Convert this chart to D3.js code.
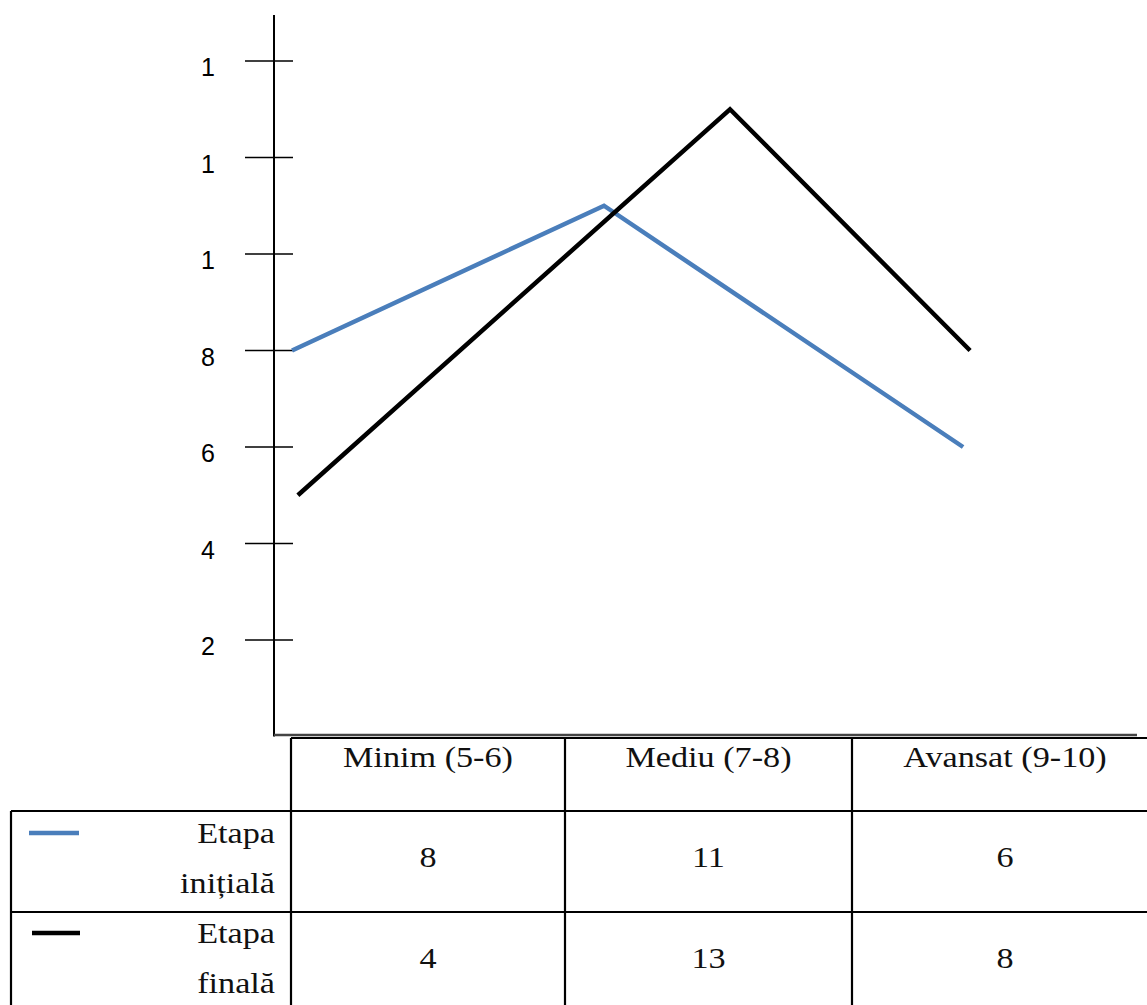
<!DOCTYPE html>
<html><head><meta charset="utf-8">
<script src="https://cdn.jsdelivr.net/npm/d3@7"></script>
<style>body{margin:0;background:#fff}svg{display:block}</style>
</head><body>
<script>
// ---- data ----
const categories = ["Minim (5-6)", "Mediu (7-8)", "Avansat (9-10)"];
const seriesLabels = [["Etapa", "inițială"], ["Etapa", "finală"]];
const initialValues = [8, 11, 6];      // plotted line (blue)
const finalValues = [5, 13, 8];        // plotted line (black), as drawn
const initialTable = [8, 11, 6];       // values printed in table
const finalTable = [4, 13, 8];
const initialPos = [0.062, 1.134, 2.368]; // x position, in category units
const finalPos = [0.082, 1.567, 2.392];
const tickValues = [2, 4, 6, 8, 10, 12, 14];
const tickLabels = ["2", "4", "6", "8", "1", "1", "1"];
const colors = ["#4a7ebb", "#000000"];

// ---- layout ----
const W = 1147, H = 1005;
const svg = d3.select("body").append("svg").attr("width", W).attr("height", H);
const axisX = 274;
const y = d3.scaleLinear().domain([0, 14]).range([736.5, 61]);
const x = d3.scaleLinear().domain([0, 3]).range([axisX, 1147]);
const sx = 1.14;

// y axis line
svg.append("line").attr("x1", axisX).attr("x2", axisX).attr("y1", 15).attr("y2", y(0))
  .attr("stroke", "#000").attr("stroke-width", 2);
// x axis line
svg.append("line").attr("x1", axisX).attr("x2", 1137).attr("y1", 735).attr("y2", 735)
  .attr("stroke", "#444").attr("stroke-width", 2.5);

// ticks (crossing)
svg.selectAll(".tick").data(tickValues).join("line")
  .attr("x1", axisX - 29).attr("x2", axisX + 19)
  .attr("y1", d => y(d)).attr("y2", d => y(d))
  .attr("stroke", "#000").attr("stroke-width", 1.6);
svg.selectAll(".tl").data(tickValues).join("text")
  .attr("x", 208).attr("y", d => y(d) + 15)
  .attr("text-anchor", "middle")
  .attr("font-family", "'Liberation Sans', Arial, sans-serif").attr("font-size", 25)
  .text((d, i) => tickLabels[i]);

// lines
const line = d3.line().x(d => x(d[0])).y(d => y(d[1]));
const series = [
  initialPos.map((p, i) => [p, initialValues[i]]),
  finalPos.map((p, i) => [p, finalValues[i]])
];
svg.selectAll(".series").data(series).join("path")
  .attr("d", line).attr("fill", "none")
  .attr("stroke", (d, i) => colors[i]).attr("stroke-width", 4.5)
  .attr("stroke-linejoin", "miter");

// ---- table ----
const cols = [11, 291, 565, 852, 1158];
const rows = [738, 811, 912, 1012];
const g = svg.append("g").attr("stroke", "#000").attr("stroke-width", 2.2);
g.append("line").attr("x1", cols[1]).attr("x2", cols[4]).attr("y1", rows[0]).attr("y2", rows[0]);
g.append("line").attr("x1", cols[0]).attr("x2", cols[4]).attr("y1", rows[1]).attr("y2", rows[1]);
g.append("line").attr("x1", cols[0]).attr("x2", cols[4]).attr("y1", rows[2]).attr("y2", rows[2]);
g.append("line").attr("x1", cols[0]).attr("x2", cols[0]).attr("y1", rows[1]).attr("y2", rows[3]);
[1, 2, 3, 4].forEach(c => g.append("line").attr("x1", cols[c]).attr("x2", cols[c]).attr("y1", rows[0]).attr("y2", rows[3]));

function serifText(tx, ty, anchor, txt) {
  svg.append("text").attr("transform", `translate(${tx},${ty}) scale(${sx},1)`)
    .attr("text-anchor", anchor)
    .attr("font-family", "'Liberation Serif', 'Times New Roman', serif").attr("font-size", 30)
    .attr("fill", "#111").text(txt);
}
categories.forEach((c, i) => serifText((cols[i + 1] + cols[i + 2]) / 2, 767, "middle", c));
initialTable.forEach((v, i) => serifText((cols[i + 1] + cols[i + 2]) / 2, 867, "middle", v));
finalTable.forEach((v, i) => serifText((cols[i + 1] + cols[i + 2]) / 2, 968, "middle", v));
serifText(275, 843, "end", seriesLabels[0][0]);
serifText(275, 893, "end", seriesLabels[0][1]);
serifText(275, 943, "end", seriesLabels[1][0]);
serifText(275, 993, "end", seriesLabels[1][1]);

// legend swatches
svg.append("line").attr("x1", 29).attr("x2", 79).attr("y1", 833).attr("y2", 833)
  .attr("stroke", colors[0]).attr("stroke-width", 4.5);
svg.append("line").attr("x1", 32).attr("x2", 80).attr("y1", 933).attr("y2", 933)
  .attr("stroke", colors[1]).attr("stroke-width", 4.5);
</script>
</body></html>
